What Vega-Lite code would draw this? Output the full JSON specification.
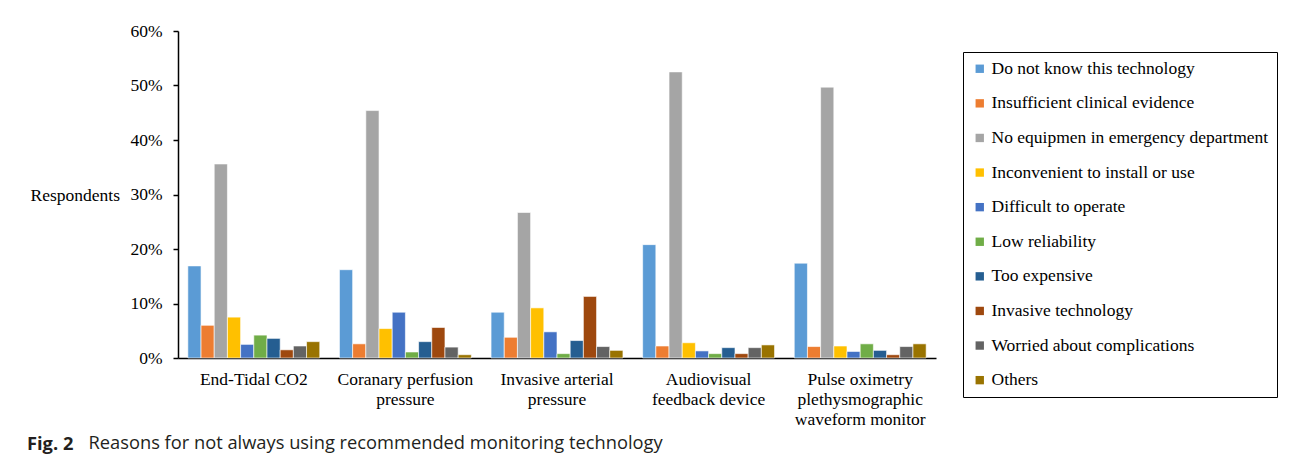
{
  "$schema": "https://vega.github.io/schema/vega-lite/v6.json",
  "width": 758,
  "height": 327,
  "autosize": {"type": "none"},
  "padding": {"left": 178, "top": 31, "right": 359, "bottom": 107},
  "background": "white",
  "title": {
    "text": "Fig. 2",
    "orient": "bottom",
    "anchor": "start",
    "frame": "group",
    "dx": -151,
    "dy": -15,
    "offset": 0,
    "font": "Open Sans",
    "fontSize": 18.3,
    "fontWeight": "bold",
    "color": "#231f20"
  },
  "data": {
    "values": [
      {"method": "End-Tidal CO2", "reason": "Do not know this technology", "pct": 0.169},
      {"method": "End-Tidal CO2", "reason": "Insufficient clinical evidence", "pct": 0.060},
      {"method": "End-Tidal CO2", "reason": "No equipmen in emergency department", "pct": 0.356},
      {"method": "End-Tidal CO2", "reason": "Inconvenient to install or use", "pct": 0.075},
      {"method": "End-Tidal CO2", "reason": "Difficult to operate", "pct": 0.025},
      {"method": "End-Tidal CO2", "reason": "Low reliability", "pct": 0.042},
      {"method": "End-Tidal CO2", "reason": "Too expensive", "pct": 0.036},
      {"method": "End-Tidal CO2", "reason": "Invasive technology", "pct": 0.015},
      {"method": "End-Tidal CO2", "reason": "Worried about complications", "pct": 0.022},
      {"method": "End-Tidal CO2", "reason": "Others", "pct": 0.030},
      {"method": "Coranary perfusion\npressure", "reason": "Do not know this technology", "pct": 0.162},
      {"method": "Coranary perfusion\npressure", "reason": "Insufficient clinical evidence", "pct": 0.026},
      {"method": "Coranary perfusion\npressure", "reason": "No equipmen in emergency department", "pct": 0.454},
      {"method": "Coranary perfusion\npressure", "reason": "Inconvenient to install or use", "pct": 0.054},
      {"method": "Coranary perfusion\npressure", "reason": "Difficult to operate", "pct": 0.084},
      {"method": "Coranary perfusion\npressure", "reason": "Low reliability", "pct": 0.011},
      {"method": "Coranary perfusion\npressure", "reason": "Too expensive", "pct": 0.030},
      {"method": "Coranary perfusion\npressure", "reason": "Invasive technology", "pct": 0.056},
      {"method": "Coranary perfusion\npressure", "reason": "Worried about complications", "pct": 0.020},
      {"method": "Coranary perfusion\npressure", "reason": "Others", "pct": 0.006},
      {"method": "Invasive arterial\npressure", "reason": "Do not know this technology", "pct": 0.084},
      {"method": "Invasive arterial\npressure", "reason": "Insufficient clinical evidence", "pct": 0.038},
      {"method": "Invasive arterial\npressure", "reason": "No equipmen in emergency department", "pct": 0.267},
      {"method": "Invasive arterial\npressure", "reason": "Inconvenient to install or use", "pct": 0.092},
      {"method": "Invasive arterial\npressure", "reason": "Difficult to operate", "pct": 0.048},
      {"method": "Invasive arterial\npressure", "reason": "Low reliability", "pct": 0.008},
      {"method": "Invasive arterial\npressure", "reason": "Too expensive", "pct": 0.032},
      {"method": "Invasive arterial\npressure", "reason": "Invasive technology", "pct": 0.113},
      {"method": "Invasive arterial\npressure", "reason": "Worried about complications", "pct": 0.021},
      {"method": "Invasive arterial\npressure", "reason": "Others", "pct": 0.014},
      {"method": "Audiovisual\nfeedback device", "reason": "Do not know this technology", "pct": 0.208},
      {"method": "Audiovisual\nfeedback device", "reason": "Insufficient clinical evidence", "pct": 0.022},
      {"method": "Audiovisual\nfeedback device", "reason": "No equipmen in emergency department", "pct": 0.525},
      {"method": "Audiovisual\nfeedback device", "reason": "Inconvenient to install or use", "pct": 0.028},
      {"method": "Audiovisual\nfeedback device", "reason": "Difficult to operate", "pct": 0.013},
      {"method": "Audiovisual\nfeedback device", "reason": "Low reliability", "pct": 0.008},
      {"method": "Audiovisual\nfeedback device", "reason": "Too expensive", "pct": 0.019},
      {"method": "Audiovisual\nfeedback device", "reason": "Invasive technology", "pct": 0.008},
      {"method": "Audiovisual\nfeedback device", "reason": "Worried about complications", "pct": 0.019},
      {"method": "Audiovisual\nfeedback device", "reason": "Others", "pct": 0.024},
      {"method": "Pulse oximetry\nplethysmographic\nwaveform monitor", "reason": "Do not know this technology", "pct": 0.174},
      {"method": "Pulse oximetry\nplethysmographic\nwaveform monitor", "reason": "Insufficient clinical evidence", "pct": 0.021},
      {"method": "Pulse oximetry\nplethysmographic\nwaveform monitor", "reason": "No equipmen in emergency department", "pct": 0.497},
      {"method": "Pulse oximetry\nplethysmographic\nwaveform monitor", "reason": "Inconvenient to install or use", "pct": 0.022},
      {"method": "Pulse oximetry\nplethysmographic\nwaveform monitor", "reason": "Difficult to operate", "pct": 0.012},
      {"method": "Pulse oximetry\nplethysmographic\nwaveform monitor", "reason": "Low reliability", "pct": 0.026},
      {"method": "Pulse oximetry\nplethysmographic\nwaveform monitor", "reason": "Too expensive", "pct": 0.014},
      {"method": "Pulse oximetry\nplethysmographic\nwaveform monitor", "reason": "Invasive technology", "pct": 0.006},
      {"method": "Pulse oximetry\nplethysmographic\nwaveform monitor", "reason": "Worried about complications", "pct": 0.021},
      {"method": "Pulse oximetry\nplethysmographic\nwaveform monitor", "reason": "Others", "pct": 0.026}
    ]
  },
  "mark": {"type": "bar", "stroke": "white", "strokeWidth": 0.6},
  "encoding": {
    "x": {
      "field": "method",
      "type": "nominal",
      "sort": ["End-Tidal CO2", "Coranary perfusion\npressure", "Invasive arterial\npressure", "Audiovisual\nfeedback device", "Pulse oximetry\nplethysmographic\nwaveform monitor"],
      "scale": {"paddingInner": 0.13, "paddingOuter": 0.065},
      "axis": {
        "title": "Reasons for not always using recommended monitoring technology",
        "titleFont": "Open Sans",
        "titleFontSize": 18.3,
        "titleFontWeight": "normal",
        "titleColor": "#231f20",
        "titleAlign": "left",
        "titleAnchor": "start",
        "titleBaseline": "middle",
        "titleX": -90,
        "titleY": 85,
        "labelExpr": "split(datum.label, '\\n')",
        "labelAngle": 0,
        "labelFont": "Liberation Serif",
        "labelFontSize": 17.5,
        "labelColor": "black",
        "labelLineHeight": 20,
        "labelPadding": 12,
        "labelLimit": 300,
        "ticks": false,
        "domainColor": "black",
        "domainWidth": 1.5
      }
    },
    "xOffset": {
      "field": "reason",
      "type": "nominal",
      "sort": ["Do not know this technology", "Insufficient clinical evidence", "No equipmen in emergency department", "Inconvenient to install or use", "Difficult to operate", "Low reliability", "Too expensive", "Invasive technology", "Worried about complications", "Others"],
      "scale": {"paddingInner": 0, "paddingOuter": 0}
    },
    "y": {
      "field": "pct",
      "type": "quantitative",
      "scale": {"domain": [0, 0.6], "nice": false},
      "axis": {
        "values": [0, 0.1, 0.2, 0.3, 0.4, 0.5, 0.6],
        "format": ".0%",
        "grid": false,
        "title": "Respondents",
        "titleAngle": 0,
        "titleAlign": "left",
        "titleBaseline": "middle",
        "titleX": -148,
        "titleY": 164,
        "titleFont": "Liberation Serif",
        "titleFontSize": 17.5,
        "titleFontWeight": "normal",
        "titleColor": "black",
        "labelFont": "Liberation Serif",
        "labelFontSize": 17.5,
        "labelColor": "black",
        "labelPadding": 11,
        "tickSize": 5,
        "tickColor": "black",
        "tickWidth": 1.5,
        "domainColor": "black",
        "domainWidth": 1.5
      }
    },
    "color": {
      "field": "reason",
      "type": "nominal",
      "sort": ["Do not know this technology", "Insufficient clinical evidence", "No equipmen in emergency department", "Inconvenient to install or use", "Difficult to operate", "Low reliability", "Too expensive", "Invasive technology", "Worried about complications", "Others"],
      "scale": {
        "domain": ["Do not know this technology", "Insufficient clinical evidence", "No equipmen in emergency department", "Inconvenient to install or use", "Difficult to operate", "Low reliability", "Too expensive", "Invasive technology", "Worried about complications", "Others"],
        "range": ["#5B9BD5", "#ED7D31", "#A5A5A5", "#FFC000", "#4472C4", "#70AD47", "#255E91", "#9E480E", "#636363", "#997300"]
      },
      "legend": {
        "orient": "none",
        "legendX": 785,
        "legendY": 21,
        "title": null,
        "encode": {
          "legend": {"update": {"strokeWidth": {"value": 1.3}}}
        }
      }
    }
  },
  "config": {
    "font": "Liberation Serif",
    "view": {"stroke": null},
    "legend": {
      "strokeColor": "black",
      "fillColor": "white",
      "padding": 8,
      "symbolType": "square",
      "symbolSize": 70,
      "symbolStrokeWidth": 0,
      "labelFont": "Liberation Serif",
      "labelFontSize": 17.5,
      "labelColor": "black",
      "labelOffset": 3,
      "labelLimit": 400,
      "rowPadding": 15.6
    }
  }
}
